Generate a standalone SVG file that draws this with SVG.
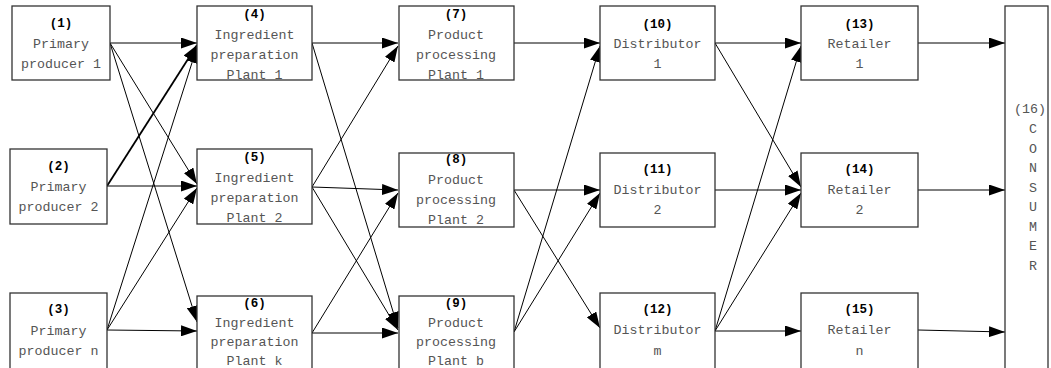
<svg xmlns="http://www.w3.org/2000/svg" width="1051" height="368" viewBox="0 0 1051 368">
<style>
.box{fill:#fff;stroke:#333;stroke-width:1.3}
.num{font-family:"Liberation Mono",monospace;font-size:12.5px;font-weight:bold;fill:#000;text-anchor:middle}
.lbl{font-family:"Liberation Mono",monospace;font-size:13.3px;fill:#555;text-anchor:middle}
.c path{fill:none;stroke:#000;stroke-width:1;marker-end:url(#ah)}
</style>
<defs>
<marker id="ah" markerUnits="userSpaceOnUse" markerWidth="16" markerHeight="11" refX="16" refY="5.5" orient="auto">
<path d="M0,0 L16,5.5 L0,11 z" fill="#000"/>
</marker>
</defs>
<rect width="1051" height="368" fill="#fff"/>
<g id="connectors" class="c">
<path d="M110,43 L197,43"/>
<path d="M110,43 L197,184"/>
<path d="M110,43 L197,322"/>
<path d="M107,186 L197,45" style="stroke-width:1.8"/>
<path d="M107,186 L197,186"/>
<path d="M107,330 L197,47"/>
<path d="M107,330 L197,188"/>
<path d="M107,330 L197,331"/>
<path d="M312,43 L398,43"/>
<path d="M312,43 L398,328"/>
<path d="M312,187 L398,46"/>
<path d="M312,187 L398,190"/>
<path d="M312,187 L398,330"/>
<path d="M312,333 L398,193"/>
<path d="M312,333 L398,333"/>
<path d="M514,43 L600,43"/>
<path d="M514,190 L600,190"/>
<path d="M514,190 L600,328"/>
<path d="M514,332 L600,46"/>
<path d="M514,332 L600,193"/>
<path d="M715,43 L801,43"/>
<path d="M715,43 L801,187"/>
<path d="M715,190 L801,190"/>
<path d="M715,331 L801,46"/>
<path d="M715,331 L801,193"/>
<path d="M715,331 L801,331"/>
<path d="M918,43 L1005,43"/>
<path d="M918,190 L1005,190"/>
<path d="M918,330 L1005,332"/>
</g>
<g id="n1"><rect class="box" x="12" y="6" width="98" height="74"/>
<text class="num" x="61" y="27">(1)</text><text class="lbl" x="61" y="48">Primary</text><text class="lbl" x="61" y="68">producer 1</text></g>
<g id="n2"><rect class="box" x="10" y="149" width="97" height="75"/>
<text class="num" x="58.5" y="170">(2)</text><text class="lbl" x="58.5" y="191">Primary</text><text class="lbl" x="58.5" y="211">producer 2</text></g>
<g id="n3"><rect class="box" x="10" y="293" width="97" height="80"/>
<text class="num" x="58.5" y="313">(3)</text><text class="lbl" x="58.5" y="335">Primary</text><text class="lbl" x="58.5" y="355">producer n</text></g>
<g id="n4"><rect class="box" x="197" y="6" width="115" height="74"/>
<text class="num" x="254.5" y="18">(4)</text><text class="lbl" x="254.5" y="39">Ingredient</text><text class="lbl" x="254.5" y="59">preparation</text><text class="lbl" x="254.5" y="79">Plant 1</text></g>
<g id="n5"><rect class="box" x="197" y="149" width="115" height="75"/>
<text class="num" x="254.5" y="161">(5)</text><text class="lbl" x="254.5" y="182">Ingredient</text><text class="lbl" x="254.5" y="202">preparation</text><text class="lbl" x="254.5" y="222">Plant 2</text></g>
<g id="n6"><rect class="box" x="197" y="296" width="115" height="80"/>
<text class="num" x="254.5" y="307">(6)</text><text class="lbl" x="254.5" y="327">Ingredient</text><text class="lbl" x="254.5" y="346">preparation</text><text class="lbl" x="254.5" y="365">Plant k</text></g>
<g id="n7"><rect class="box" x="399" y="6" width="115" height="74"/>
<text class="num" x="456" y="18">(7)</text><text class="lbl" x="456" y="39">Product</text><text class="lbl" x="456" y="59">processing</text><text class="lbl" x="456" y="79">Plant 1</text></g>
<g id="n8"><rect class="box" x="399" y="153" width="115" height="74"/>
<text class="num" x="456" y="163">(8)</text><text class="lbl" x="456" y="184">Product</text><text class="lbl" x="456" y="204">processing</text><text class="lbl" x="456" y="224">Plant 2</text></g>
<g id="n9"><rect class="box" x="399" y="296" width="115" height="80"/>
<text class="num" x="456" y="307">(9)</text><text class="lbl" x="456" y="327">Product</text><text class="lbl" x="456" y="346">processing</text><text class="lbl" x="456" y="365">Plant b</text></g>
<g id="n10"><rect class="box" x="600" y="6" width="115" height="74"/>
<text class="num" x="657.5" y="28">(10)</text><text class="lbl" x="657.5" y="48">Distributor</text><text class="lbl" x="657.5" y="68">1</text></g>
<g id="n11"><rect class="box" x="600" y="153" width="115" height="74"/>
<text class="num" x="657.5" y="173">(11)</text><text class="lbl" x="657.5" y="194">Distributor</text><text class="lbl" x="657.5" y="214">2</text></g>
<g id="n12"><rect class="box" x="600" y="293" width="115" height="80"/>
<text class="num" x="657.5" y="313">(12)</text><text class="lbl" x="657.5" y="334">Distributor</text><text class="lbl" x="657.5" y="355">m</text></g>
<g id="n13"><rect class="box" x="801" y="6" width="117" height="74"/>
<text class="num" x="859.5" y="28">(13)</text><text class="lbl" x="859.5" y="48">Retailer</text><text class="lbl" x="859.5" y="68">1</text></g>
<g id="n14"><rect class="box" x="801" y="153" width="117" height="74"/>
<text class="num" x="859.5" y="173">(14)</text><text class="lbl" x="859.5" y="194">Retailer</text><text class="lbl" x="859.5" y="214">2</text></g>
<g id="n15"><rect class="box" x="801" y="293" width="117" height="80"/>
<text class="num" x="859.5" y="313">(15)</text><text class="lbl" x="859.5" y="334">Retailer</text><text class="lbl" x="859.5" y="355">n</text></g>
<g id="n16"><rect class="box" x="1005" y="6" width="43" height="370"/>
<text class="lbl" x="1030" y="113">(16)</text>
<text class="lbl" x="1033" y="133">C</text><text class="lbl" x="1033" y="153">O</text><text class="lbl" x="1033" y="172">N</text><text class="lbl" x="1033" y="192">S</text><text class="lbl" x="1033" y="211">U</text><text class="lbl" x="1033" y="231">M</text><text class="lbl" x="1033" y="250">E</text><text class="lbl" x="1033" y="270">R</text></g>
</svg>
